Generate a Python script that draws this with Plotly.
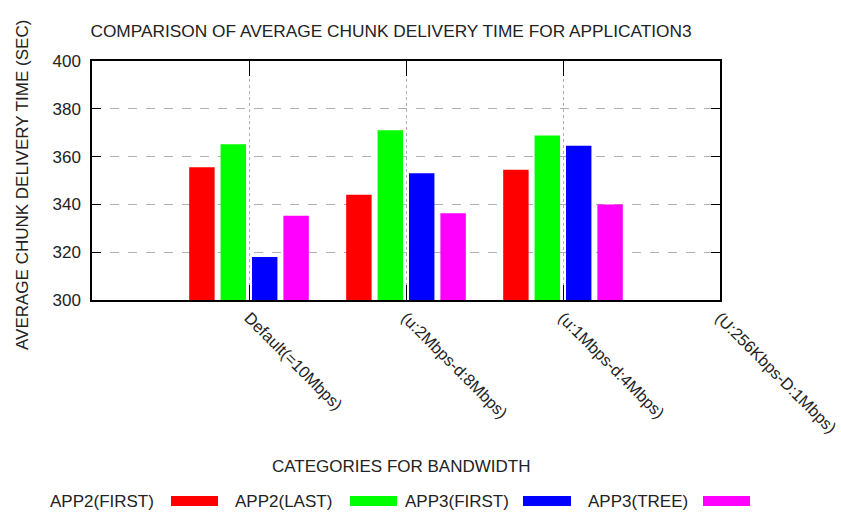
import plotly.graph_objects as go

# Bandwidth categories (the last one has no measurements)
categories = ["Default(=10Mbps)", "(u:2Mbps-d:8Mbps)", "(u:1Mbps-d:4Mbps)", "(U:256Kbps-D:1Mbps)"]
series_names = ["APP2(FIRST)", "APP2(LAST)", "APP3(FIRST)", "APP3(TREE)"]
app2_first = [355.5, 344.0, 354.5, None]
app2_last = [365.2, 371.0, 368.8, None]
app3_first = [318.0, 353.0, 364.5, None]
app3_tree = [335.3, 336.3, 340.0, None]
colors = ["#ff0000", "#00ff00", "#0000ff", "#ff00ff"]

W, H = 841, 513
L, R, T, B = 92, 720, 61, 300  # plot area in pixels
FONT = "Liberation Sans, Arial, sans-serif"
TXT = "#222222"
FS = 17


def px_x(px):
    return (px - L) / (R - L)


def px_y(py):
    return (B - py) / (B - T)


fig = go.Figure()
xpos = list(range(len(categories)))
for name, vals, col in zip(series_names, [app2_first, app2_last, app3_first, app3_tree], colors):
    fig.add_trace(go.Bar(x=xpos, y=vals, name=name, marker=dict(color=col, line=dict(width=0)),
                         showlegend=False))

# gnuplot-style key: label first, colour sample after it
key_text_right = [156, 334, 511, 690]
key_sample = [(171, 218), (350, 397), (523, 571), (703, 750)]
key_y = 501
annotations = []
shapes = []
for name, col, xr, (s0, s1) in zip(series_names, colors, key_text_right, key_sample):
    annotations.append(dict(x=px_x(xr), y=px_y(key_y), xref="paper", yref="paper", text=name,
                            showarrow=False, xanchor="right", yanchor="middle",
                            font=dict(family=FONT, size=FS, color=TXT)))
    shapes.append(dict(type="rect", xref="paper", yref="paper", x0=px_x(s0), x1=px_x(s1),
                       y0=px_y(key_y + 5), y1=px_y(key_y - 5), fillcolor=col,
                       line=dict(width=0)))

annotations.append(dict(x=px_x(401), y=px_y(466), xref="paper", yref="paper",
                        text="CATEGORIES FOR BANDWIDTH", showarrow=False,
                        xanchor="center", yanchor="middle",
                        font=dict(family=FONT, size=FS, color=TXT)))
annotations.append(dict(x=px_x(22), y=px_y(185), xref="paper", yref="paper",
                        text="AVERAGE CHUNK DELIVERY TIME (SEC)", showarrow=False, textangle=-90,
                        xanchor="center", yanchor="middle",
                        font=dict(family=FONT, size=FS, color=TXT)))

fig.update_layout(
    width=W, height=H,
    margin=dict(l=L, r=W - R, t=T, b=H - B, autoexpand=False),
    paper_bgcolor="white", plot_bgcolor="white",
    barmode="group", bargap=0.2, bargroupgap=0.19,
    title=dict(text="COMPARISON OF AVERAGE CHUNK DELIVERY TIME FOR APPLICATION3",
               x=391 / W, xanchor="center", y=1 - 31 / H, yanchor="middle",
               font=dict(family=FONT, size=17.3, color=TXT)),
    annotations=annotations,
    shapes=shapes,
)

fig.update_xaxes(
    range=[-1, 3], tickmode="array", tickvals=xpos, ticktext=categories,
    tickangle=45, tickfont=dict(family=FONT, size=16.4, color=TXT),
    ticklabeloverflow="allow", automargin=False,
    showline=True, linecolor="black", linewidth=1.5, mirror="ticks",
    ticks="inside", ticklen=15, tickcolor="black", tickwidth=1.2,
    showgrid=True, gridcolor="#b0b0b0", griddash="dot", gridwidth=1,
    zeroline=False,
)
fig.update_yaxes(
    range=[300, 400], tickmode="linear", tick0=300, dtick=20,
    tickfont=dict(family=FONT, size=FS, color=TXT), ticklabelstandoff=6,
    automargin=False,
    showline=True, linecolor="black", linewidth=1.5, mirror="ticks",
    ticks="inside", ticklen=9, tickcolor="black", tickwidth=1.2,
    showgrid=True, gridcolor="#b0b0b0", griddash="dash", gridwidth=1,
    zeroline=False,
)

fig.write_html("out.html")
